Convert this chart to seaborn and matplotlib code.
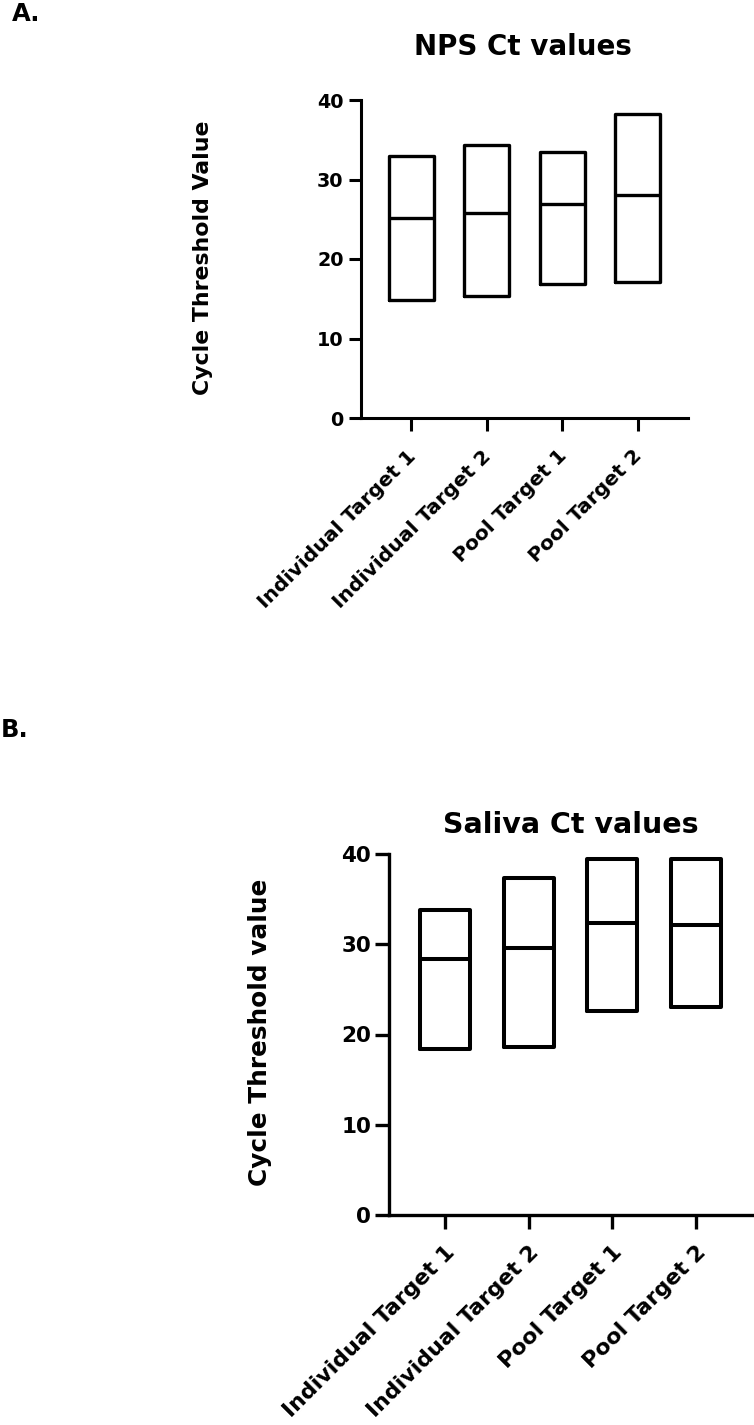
import matplotlib
matplotlib.use("Agg")
import matplotlib.pyplot as plt
import matplotlib.transforms as mtransforms
import seaborn as sns
import pandas as pd

categories = ["Individual Target 1", "Individual Target 2", "Pool Target 1", "Pool Target 2"]

# NPS Ct values: min, median, max per category
nps_min = [14.9, 15.4, 16.8, 17.1]
nps_median = [25.2, 25.8, 26.9, 28.0]
nps_max = [32.9, 34.3, 33.5, 38.3]

# Saliva Ct values: min, median, max per category
sal_min = [18.4, 18.6, 22.6, 23.0]
sal_median = [28.4, 29.6, 32.4, 32.1]
sal_max = [33.8, 37.3, 39.5, 39.5]

yticks = [0, 10, 20, 30, 40]


def floating_frame(mins, meds, maxs):
    # min-to-max floating bar with a line at the median, expressed as the
    # five-number summary so the boxplot draws Q1=min, median, Q3=max
    rows = []
    for c, lo, md, hi in zip(categories, mins, meds, maxs):
        for v in (lo, lo, md, hi, hi):
            rows.append({"group": c, "ct": v})
    return pd.DataFrame(rows)


sns.set_theme(style="ticks")
plt.rcParams["font.family"] = ["DejaVu Sans"]
plt.rcParams["font.weight"] = "bold"

W, H = 754, 1425
fig = plt.figure(figsize=(W / 100, H / 100), dpi=100)


def px_axes(x0, x1, y0, y1):
    return fig.add_axes([x0 / W, 1 - y1 / H, (x1 - x0) / W, (y1 - y0) / H])


def style_panel(ax, df, lw, spw, ytick_fs, xtick_fs, ticklen, pad, ylabel, ylab_xy,
                ylab_fs, xoff):
    sns.boxplot(data=df, x="group", y="ct", order=categories, ax=ax,
                width=0.6, whis=0, fill=False, color="black", linecolor="black",
                linewidth=lw, showcaps=False, showfliers=False,
                boxprops=dict(solid_joinstyle="round"),
                medianprops=dict(color="black", linewidth=lw))
    ax.set_xlim(-0.67, 3.67)
    ax.set_ylim(0, 40)
    ax.set_yticks(yticks)
    ax.set_yticklabels([str(t) for t in yticks], fontsize=ytick_fs, fontweight="bold")
    ax.set_xticks(range(len(categories)))
    ax.set_xticklabels(categories, fontsize=xtick_fs, fontweight="bold",
                       rotation=45, ha="right", rotation_mode="anchor")
    for s in ("top", "right"):
        ax.spines[s].set_visible(False)
    for s in ("left", "bottom"):
        ax.spines[s].set_linewidth(spw)
        ax.spines[s].set_color("black")
    ax.tick_params(axis="both", direction="out", length=ticklen, width=spw,
                   color="black", pad=pad, labelcolor="black")
    offset = mtransforms.ScaledTranslation(xoff[0] / 100, -xoff[1] / 100, fig.dpi_scale_trans)
    for lab in ax.get_xticklabels():
        lab.set_transform(lab.get_transform() + offset)
    ax.set_xlabel("")
    ax.set_ylabel(ylabel, fontsize=ylab_fs, fontweight="bold", color="black")
    ax.yaxis.set_label_coords(*ylab_xy)


ax1 = px_axes(361, 688, 100, 418)
style_panel(ax1, floating_frame(nps_min, nps_median, nps_max),
            lw=2.4, spw=2.2, ytick_fs=13.8, xtick_fs=14.6, ticklen=9, pad=3.5,
            ylabel="Cycle Threshold Value", ylab_xy=(-0.453, 0.505), ylab_fs=15.8,
            xoff=(-5, 11))

ax2 = px_axes(389, 752, 854, 1215)
style_panel(ax2, floating_frame(sal_min, sal_median, sal_max),
            lw=2.9, spw=2.4, ytick_fs=15.5, xtick_fs=15.8, ticklen=10, pad=3,
            ylabel="Cycle Threshold value", ylab_xy=(-0.322, 0.506), ylab_fs=17.8,
            xoff=(0, 9))

fig.text(523 / W, 1 - 47 / H, "NPS Ct values", ha="center", va="center",
         fontsize=20, fontweight="bold", color="black")
fig.text(571 / W, 1 - 825 / H, "Saliva Ct values", ha="center", va="center",
         fontsize=20.5, fontweight="bold", color="black")
fig.text(12 / W, 1 - 14 / H, "A.", ha="left", va="center",
         fontsize=17.5, fontweight="bold", color="black")
fig.text(1 / W, 1 - 730 / H, "B.", ha="left", va="center",
         fontsize=17.5, fontweight="bold", color="black")

fig.savefig("out.png", dpi=100)
